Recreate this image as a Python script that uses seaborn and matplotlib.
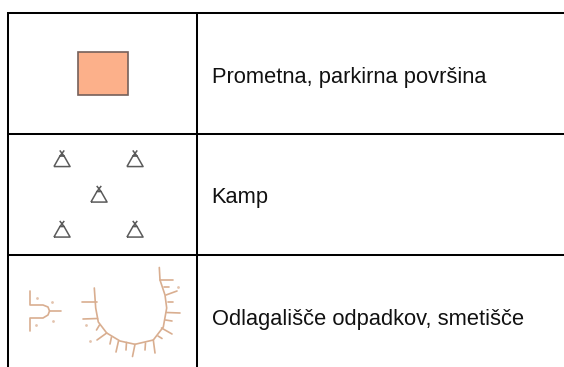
import matplotlib
matplotlib.use("Agg")
import matplotlib.pyplot as plt
from matplotlib.path import Path
from matplotlib.patches import Rectangle
import pandas as pd
import seaborn as sns

labels = ["Prometna, parkirna površina", "Kamp", "Odlagališče odpadkov, smetišče"]
label_y = [82.5, 203.5, 324.5]
label_x = 211.5
row_lines_y = [13, 134, 255]
col_lines_x = [8, 197]

square_box = (78, 52, 50, 43)
tent_x = [62, 135, 99, 62, 135]
tent_y = [158.5, 158.5, 194, 229, 229]

fork = [
    [(30, 291), (30, 305), (43, 305), (48, 307), (49.5, 311), (48, 315), (43, 318), (30, 318), (30, 331)],
    [(49.5, 311), (61, 311)],
]
curve = [(94.3, 288), (95.7, 308), (98.3, 322), (106.7, 333), (120, 341), (135, 344.3),
         (153.3, 340), (163.3, 327), (166.7, 308), (165, 295), (160, 280), (159.3, 267.5)]
ticks = [
    [(96.5, 301.5), (81.5, 301.5)], [(97.5, 318.5), (83, 319)], [(99.5, 325), (96.5, 330)],
    [(106.7, 333), (97, 340)], [(111.5, 337), (110, 344)], [(118.5, 341), (116, 352)],
    [(126.5, 342.5), (126, 350)], [(135, 344.3), (132.5, 356.5)], [(145.5, 343), (145, 350)],
    [(153.3, 340), (155, 353)], [(161.5, 328), (172, 334)], [(158, 336), (162, 338.5)],
    [(165.5, 320), (172, 321)], [(166.7, 312.5), (180, 313)], [(167.5, 301.5), (173, 301.5)],
    [(166, 295), (177, 291)], [(163.5, 286.5), (168.5, 286.5)], [(160, 279.5), (172.5, 279.5)],
]
dot_x = [37, 52, 36, 53, 86, 90, 178]
dot_y = [297.5, 302, 325, 321, 325, 340.5, 287]

sns.set_theme(style="white")
plt.rcParams["font.family"] = ["Liberation Sans", "DejaVu Sans"]

fig = plt.figure(figsize=(5.64, 3.67), dpi=100)
ax = fig.add_axes([0, 0, 1, 1])
ax.set_xlim(0, 564)
ax.set_ylim(367, 0)
ax.axis("off")

for y in row_lines_y:
    ax.plot([col_lines_x[0] - 1, 564], [y, y], color="black", lw=1.45, solid_capstyle="butt")
for x in col_lines_x:
    ax.plot([x, x], [row_lines_y[0] - 1, 367], color="black", lw=1.45, solid_capstyle="butt")

ax.add_patch(Rectangle(square_box[:2], square_box[2], square_box[3],
                       facecolor="#FCB08A", edgecolor="#75605A", lw=1.2))

tent_path = Path(
    [(-0.5, -0.5), (0.5, -0.5), (0.13, 0.15), (-0.13, 0.15), (-0.5, -0.5),
     (-0.14, 0.5), (0.13, 0.15), (0.14, 0.5), (-0.13, 0.15)],
    [Path.MOVETO, Path.LINETO, Path.LINETO, Path.LINETO, Path.LINETO,
     Path.MOVETO, Path.LINETO, Path.MOVETO, Path.LINETO],
)
sns.scatterplot(x=tent_x, y=tent_y, marker=tent_path, s=135, facecolors="none",
                edgecolor="#5A5A5A", linewidth=1.1, ax=ax, legend=False)

rows = []
for i, seg in enumerate(fork + [curve] + ticks):
    for x, y in seg:
        rows.append({"seg": i, "x": x, "y": y})
df = pd.DataFrame(rows)
sns.lineplot(data=df, x="x", y="y", units="seg", estimator=None, sort=False,
             color="#D9AE90", lw=1.2, ax=ax, legend=False)
sns.scatterplot(x=dot_x, y=dot_y, s=4, color="#E3C4AE", linewidth=0, ax=ax, legend=False)

ax.set_xlim(0, 564)
ax.set_ylim(367, 0)
ax.set_xlabel("")
ax.set_ylabel("")

for text, y in zip(labels, label_y):
    ax.text(label_x, y, text, fontsize=15.75, color="#111111", va="baseline", ha="left")

fig.savefig("out.png", dpi=100)
